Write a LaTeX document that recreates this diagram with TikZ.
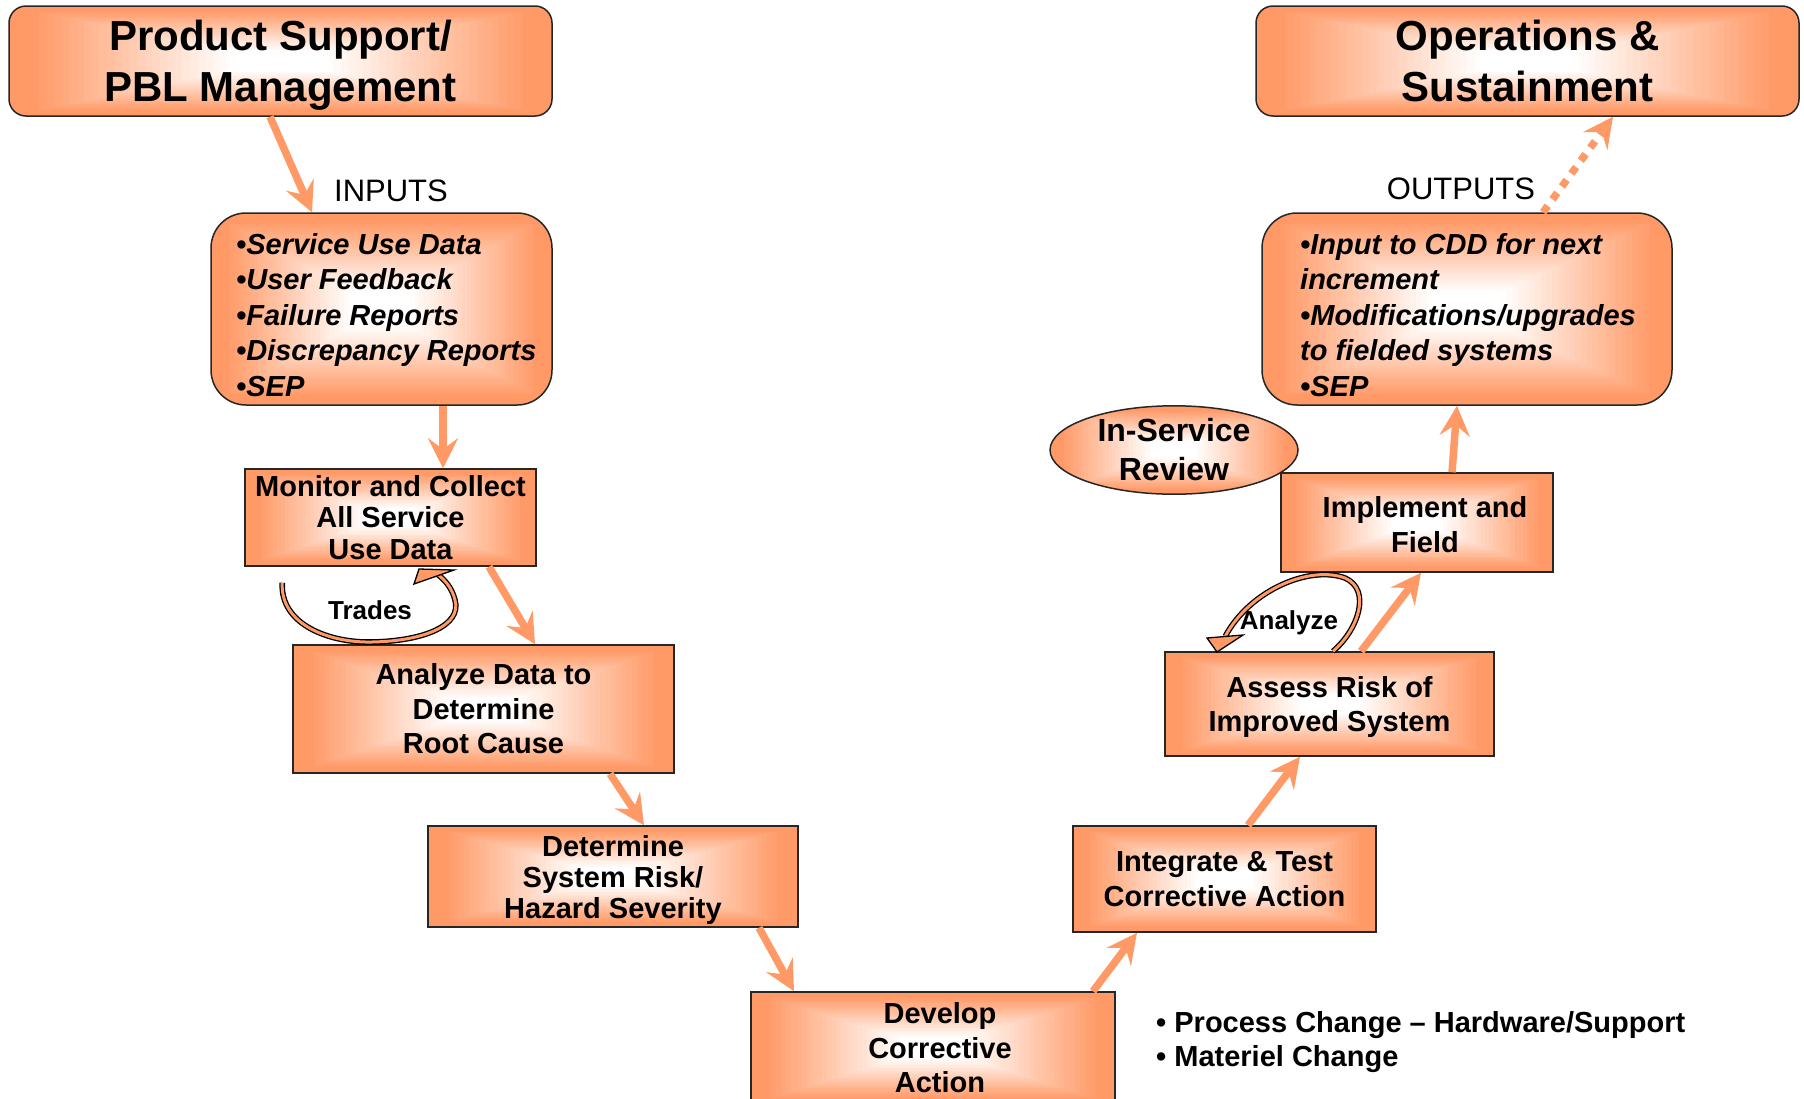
\documentclass[tikz,border=0pt]{standalone}
\usepackage{fontspec}
\setmainfont{Liberation Sans}
\usetikzlibrary{arrows.meta,shapes.geometric,calc}
\definecolor{boxor}{RGB}{255,153,102}
\definecolor{arror}{RGB}{255,153,102}
\tikzset{
  gradfill/.style={path picture={
    \foreach \gk in {0,...,35}{
      \pgfmathsetmacro\gf{1-\gk/36}
      \pgfmathtruncatemacro\gp{min(100,max(0,(\gf-0.18)/0.74*100))}
      \fill[boxor!\gp!white, sharp corners] ($(path picture bounding box.center)!\gf!(path picture bounding box.south west)$) rectangle ($(path picture bounding box.center)!\gf!(path picture bounding box.north east)$);
    }}},
  box/.style={draw=black!85, line width=1.5pt, gradfill, inner sep=0pt, align=center,
    font=\fontsize{29}{34.5}\selectfont\bfseries},
  boxtext/.style={align=center, inner sep=0pt, font=\fontsize{29}{34.5}\selectfont\bfseries},
  titlebox/.style={box, rounded corners=17pt, minimum width=543pt, minimum height=110pt,
    text depth=-6pt, font=\fontsize{42}{50.6}\selectfont\bfseries},
  listbox/.style={box, rounded corners=35pt, minimum height=192pt},
  listtext/.style={anchor=west, align=left, inner sep=0pt,
    font=\fontsize{29}{35.4}\selectfont\bfseries\itshape},
  flow/.style={draw=arror, line width=7.5pt, -{Stealth[length=30pt,width=30pt,inset=11pt]}},
  loopline/.style={draw=black, line width=1.3pt, double=boxor, double distance=3pt},
  loophead/.style={fill=boxor, draw=black, line width=1.3pt, line join=miter},
  lbl/.style={font=\fontsize{31}{31}\selectfont, inner sep=0pt},
  looplbl/.style={font=\fontsize{26}{26}\selectfont\bfseries, inner sep=0pt}
}
\begin{document}
\begin{tikzpicture}[x=1pt,y=-1pt]
\clip (0,0) rectangle (1804,1098);
\fill[white] (0,0) rectangle (1804,1098);

% boxes
\node[titlebox] (ps) at (280.5,61) {Product Support/\\PBL Management};
\node[titlebox] (ops) at (1527.5,61) {Operations \&\\Sustainment};
\node[listbox, minimum width=341pt] (inp) at (381.5,309) {};
\node[listtext] (inpt) at ([xshift=-145.5pt,yshift=-6pt]inp.center)
  {•Service Use Data\\•User Feedback\\•Failure Reports\\•Discrepancy Reports\\•SEP};
\node[listbox, minimum width=410pt] (outp) at (1467,309) {};
\node[listtext] (outpt) at ([xshift=-167pt,yshift=-6pt]outp.center)
  {•Input to CDD for next\\increment\\•Modifications/upgrades\\to fielded systems\\•SEP};
\node[box, ellipse, minimum width=248pt, minimum height=88pt,
  font=\fontsize{32}{39}\selectfont\bfseries] (isr) at (1174,450) {In-Service\\Review};
\node[box, minimum width=291pt, minimum height=97pt, font=\fontsize{29}{31.6}\selectfont\bfseries]
  (mon) at (390.5,517.5) {Monitor and Collect\\All Service\\Use Data};
\node[box, minimum width=381pt, minimum height=128pt] (ana) at (483.5,709)
  {Analyze Data to\\Determine\\Root Cause};
\node[box, minimum width=370pt, minimum height=101pt, text depth=0pt,
  font=\fontsize{29}{31}\selectfont\bfseries]
  (det) at (613,876.5) {Determine\\System Risk/\\Hazard Severity};
\node[box, minimum width=364pt, minimum height=112pt] (dev) at (933,1048) {};
\node[boxtext] (devt) at ([xshift=7pt]dev.center) {Develop\\Corrective\\Action};
\node[box, minimum width=303pt, minimum height=106pt] (int) at (1224.5,879)
  {Integrate \& Test\\Corrective Action};
\node[box, minimum width=329pt, minimum height=104pt, text depth=0pt] (ass) at (1329.5,704)
  {Assess Risk of\\Improved System};
\node[box, minimum width=272pt, minimum height=99pt] (imp) at (1417,522.5) {};
\node[boxtext] (impt) at ([xshift=8pt,yshift=-2pt]imp.center) {Implement and\\Field};

% labels
\node[lbl] (inl) at (391,191) {INPUTS};
\node[lbl] (outl) at (1461,189) {OUTPUTS};
\node[anchor=west, align=left, inner sep=0pt, font=\fontsize{29}{34.5}\selectfont\bfseries]
  (chg) at (1156,1042) {• Process Change – Hardware/Support\\• Materiel Change};

% flow arrows
\draw[flow] ([xshift=-10.5pt]ps.south) -- ([xshift=-69.5pt]inp.north);
\draw[flow] ([xshift=61.5pt]inp.south) -- ([xshift=52.5pt]mon.north);
\draw[flow] ([xshift=98.5pt]mon.south) -- ([xshift=51.5pt]ana.north);
\draw[flow] ([xshift=126.5pt]ana.south) -- ([xshift=31pt]det.north);
\draw[flow] ([xshift=146pt]det.south) -- ([xshift=-139pt]dev.north);
\draw[flow] ([xshift=160pt]dev.north) -- ([xshift=-87.5pt]int.south);
\draw[flow] ([xshift=23.5pt]int.north) -- ([xshift=-29.5pt]ass.south);
\draw[flow] ([xshift=31.5pt]ass.north) -- ([xshift=4pt]imp.south);
\draw[flow] ([xshift=35pt]imp.north) -- ([xshift=-10pt]outp.south);
\draw[flow, dash pattern=on 8pt off 8pt] ([xshift=76pt]outp.north) -- ([xshift=85.5pt]ops.south);

% Trades loop
\coordinate (trs) at ([shift={(38,16)}]mon.south west);
\coordinate (tre) at ([shift={(47.5,8)}]mon.south);
\draw[loopline] (trs) .. controls (280,625) and (330,643) .. (372,642)
  .. controls (425,641) and (462,625) .. (455,600)
  .. controls (452,588) and (445,580) .. (tre);
\draw[loophead] (414,584) -- (419,569) -- (454,570) -- cycle;
\node[looplbl] (trl) at (370,610) {Trades};

% Analyze loop
\coordinate (ans) at ([xshift=3.5pt]ass.north);
\coordinate (ane) at ([shift={(61,-15)}]ass.north west);
\draw[loopline] (ans) .. controls (1358,630) and (1372,590) .. (1345,578)
  .. controls (1310,565) and (1250,590) .. (ane);
\draw[loophead] (1207,638) -- (1243,635) -- (1217,652) -- cycle;
\node[looplbl] (anl) at (1289,623) {Analyze};
\end{tikzpicture}
\end{document}
